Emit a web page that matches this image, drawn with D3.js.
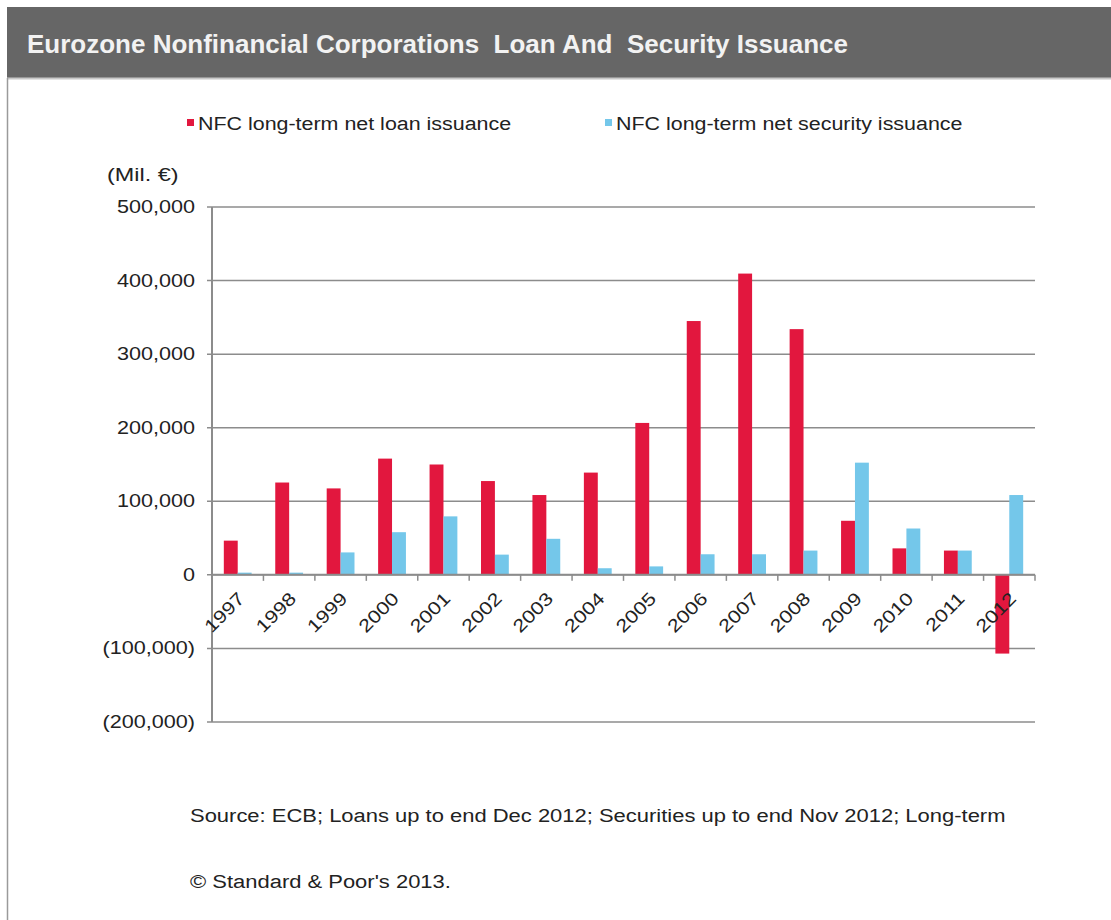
<html>
<head>
<script src="https://d3js.org/d3.v7.min.js"></script>
<style>
  body { margin: 0; background: #fff; }
  text { font-family: "Liberation Sans", Arial, sans-serif; fill: #222; }
</style>
</head>
<body>
<div id="chart"></div>
<script>
var years = ["1997", "1998", "1999", "2000", "2001", "2002", "2003", "2004",
             "2005", "2006", "2007", "2008", "2009", "2010", "2011", "2012"]
var loanIssuance = [46500, 125500, 117500, 158000, 150000, 127500, 108500, 139000,
                    206500, 345000, 409500, 334000, 73500, 36000, 33000, -107000]
var securityIssuance = [3000, 3000, 30500, 58000, 79500, 27500, 49000, 9000,
                        11500, 28000, 28000, 33000, 152500, 63000, 33000, 108500]
var yTicks = [500000, 400000, 300000, 200000, 100000, 0, -100000, -200000]
var seriesNames = ["NFC long-term net loan issuance", "NFC long-term net security issuance"]
var seriesColors = ["#e2173e", "#74c7ea"]

var W = 1111, H = 920
var svg = d3.select("#chart").append("svg")
    .attr("width", W)
    .attr("height", H)

// the source image is a bit stretched sideways, widen the text to match
function stretch(sel, k) {
    sel.each(function() {
        var len = this.getComputedTextLength()
        d3.select(this)
            .attr("textLength", len * k)
            .attr("lengthAdjust", "spacingAndGlyphs")
    })
}

// header band
svg.append("rect")
    .attr("x", 7).attr("y", 7)
    .attr("width", W - 7).attr("height", 71)
    .attr("fill", "#666666")
svg.append("line")
    .attr("x1", 7).attr("x2", W).attr("y1", 78.5).attr("y2", 78.5)
    .attr("stroke", "#c8c8c8").attr("stroke-width", 2)
svg.append("line")
    .attr("x1", 7.5).attr("x2", 7.5).attr("y1", 78).attr("y2", H)
    .attr("stroke", "#9a9a9a").attr("stroke-width", 1.5)

svg.append("text")
    .attr("x", 27).attr("y", 53)
    .attr("font-size", 25)
    .attr("font-weight", "bold")
    .attr("textLength", 821)
    .attr("lengthAdjust", "spacingAndGlyphs")
    .style("font-family", "'Liberation Sans Narrow', 'Liberation Sans', sans-serif")
    .style("white-space", "pre")
    .style("fill", "#f2f2f2")
    .text("Eurozone Nonfinancial Corporations  Loan And  Security Issuance")

var margin = {left: 212, right: 1035, top: 207, bottom: 722}

var x = d3.scaleBand()
    .domain(years)
    .range([margin.left, margin.right])

var y = d3.scaleLinear()
    .domain([-200000, 500000])
    .range([margin.bottom, margin.top])

// gridlines
svg.append("g")
    .selectAll("line")
    .data(yTicks)
    .join("line")
      .attr("x1", margin.left - 5)
      .attr("x2", margin.right)
      .attr("y1", d => y(d))
      .attr("y2", d => y(d))
      .attr("stroke", "#8c8c8c")
      .attr("stroke-width", 1.5)

// y tick labels
svg.append("g")
    .selectAll("text")
    .data(yTicks)
    .join("text")
      .attr("x", 195)
      .attr("y", d => y(d) + 6)
      .attr("text-anchor", "end")
      .attr("font-size", 18)
      .text(d => d < 0 ? "(" + d3.format(",")(-d) + ")" : d3.format(",")(d))
      .call(stretch, 1.2)

svg.append("text")
    .attr("x", 107).attr("y", 181)
    .attr("font-size", 18)
    .text("(Mil. €)")
    .call(stretch, 1.3)

// bars
var inner = d3.scaleBand()
    .domain([0, 1])
    .range([0, x.bandwidth()])
    .paddingInner(0)
    .paddingOuter(0.85)

var groups = svg.append("g")
    .selectAll("g")
    .data(years)
    .join("g")
      .attr("transform", d => `translate(${x(d)},0)`)

groups.selectAll("rect")
    .data((d, i) => [loanIssuance[i], securityIssuance[i]])
    .join("rect")
      .attr("x", (d, i) => inner(i))
      .attr("width", inner.bandwidth())
      .attr("y", d => Math.min(y(d), y(0)))
      .attr("height", d => Math.abs(y(d) - y(0)))
      .attr("fill", (d, i) => seriesColors[i])

// axes lines
svg.append("line")
    .attr("x1", margin.left).attr("x2", margin.left)
    .attr("y1", margin.top).attr("y2", margin.bottom)
    .attr("stroke", "#8c8c8c").attr("stroke-width", 2)
svg.append("line")
    .attr("x1", margin.left).attr("x2", margin.right)
    .attr("y1", y(0)).attr("y2", y(0))
    .attr("stroke", "#8c8c8c").attr("stroke-width", 2)

// x ticks
var tickPos = years.map(d => x(d) + x.bandwidth())
svg.append("g")
    .selectAll("line")
    .data(tickPos)
    .join("line")
      .attr("x1", d => d).attr("x2", d => d)
      .attr("y1", y(0)).attr("y2", y(0) + 6)
      .attr("stroke", "#8c8c8c").attr("stroke-width", 1.5)

// x labels
svg.append("g")
    .selectAll("text")
    .data(years)
    .join("text")
      .attr("text-anchor", "end")
      .attr("font-size", 18)
      .attr("transform", d => `translate(${x(d) + x.bandwidth() / 2 + 8},${y(0) + 25}) rotate(-45)`)
      .text(d => d)
      .call(stretch, 1.2)

// legend
var legendX = [187, 605]
var legend = svg.append("g")
    .selectAll("g")
    .data(seriesNames)
    .join("g")
      .attr("transform", (d, i) => `translate(${legendX[i]},124)`)
legend.append("rect")
    .attr("x", 0).attr("y", -5)
    .attr("width", 7).attr("height", 7)
    .attr("fill", (d, i) => seriesColors[i])
legend.append("text")
    .attr("x", 11).attr("y", 6)
    .attr("font-size", 18)
    .text(d => d)
    .call(stretch, 1.19)

// footer
svg.append("text")
    .attr("x", 190).attr("y", 822)
    .attr("font-size", 18)
    .text("Source: ECB; Loans up to end Dec 2012; Securities up to end Nov 2012; Long-term")
    .call(stretch, 1.22)
svg.append("text")
    .attr("x", 190).attr("y", 888)
    .attr("font-size", 18)
    .text("© Standard & Poor's 2013.")
    .call(stretch, 1.22)
</script>
</body>
</html>
